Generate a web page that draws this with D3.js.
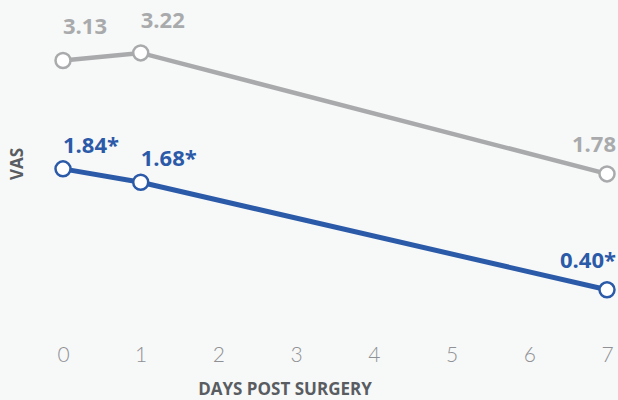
<!DOCTYPE html>
<html><head><meta charset="utf-8">
<script src="https://cdn.jsdelivr.net/npm/d3@7"></script>
<style>
html,body{margin:0;padding:0;background:#f7f8f8;}
svg{display:block;}
</style></head>
<body>
<svg id="chart" width="618" height="400"></svg>
<script>
const days = [0, 1, 2, 3, 4, 5, 6, 7];
const controlDays = [0, 1, 7];
const controlValues = [3.13, 3.22, 1.78];
const controlLabels = ["3.13", "3.22", "1.78"];
const treatedDays = [0, 1, 7];
const treatedValues = [1.84, 1.68, 0.40];
const treatedLabels = ["1.84*", "1.68*", "0.40*"];
const xTitle = "DAYS POST SURGERY";
const yTitle = "VAS";

const svg = d3.select("#chart");
const x = d3.scaleLinear().domain([0, 7]).range([63, 607]);
const y = d3.scaleLinear().domain([0, 3.5]).range([323.4, 29.4]);

const xAxis = d3.axisBottom(x).tickValues(days).tickSize(0).tickPadding(0).tickFormat(d3.format("d"));
const gx = svg.append("g").attr("transform", "translate(0,347)").call(xAxis);
gx.select(".domain").remove();
gx.selectAll("text")
  .attr("dy", "0.71em")
  .style("font-family", "Lato, Roboto, sans-serif")
  .style("font-weight", 300)
  .style("font-size", "21px")
  .style("fill", "#8f9194");

svg.append("text").attr("x", 285).attr("y", 395)
  .attr("text-anchor", "middle")
  .style("font-family", "'Open Sans', sans-serif").style("font-weight", 700)
  .style("font-size", "17px").style("fill", "#595d62").text(xTitle);

svg.append("text").attr("transform", "translate(23,164) rotate(-90)")
  .attr("text-anchor", "middle")
  .style("font-family", "'Open Sans', sans-serif").style("font-weight", 700)
  .style("font-size", "17px").style("fill", "#595d62").text(yTitle);

function drawSeries(ds, vs, labels, color, offsets, lw) {
  const pts = ds.map((d, i) => [d, vs[i]]);
  svg.append("path").datum(pts)
    .attr("d", d3.line().x(d => x(d[0])).y(d => y(d[1])))
    .attr("fill", "none").attr("stroke", color).attr("stroke-width", lw);
  svg.selectAll(null).data(pts).enter().append("circle")
    .attr("cx", d => x(d[0])).attr("cy", d => y(d[1])).attr("r", 7.5)
    .attr("fill", "#ffffff").attr("stroke", color).attr("stroke-width", 2.5);
  svg.selectAll(null).data(pts).enter().append("text")
    .attr("x", (d, i) => i === pts.length - 1 ? x(d[0]) + 9 : x(d[0]))
    .attr("y", (d, i) => y(d[1]) - offsets[i])
    .attr("text-anchor", (d, i) => i === pts.length - 1 ? "end" : "start")
    .style("font-family", "'Open Sans', sans-serif").style("font-weight", 700)
    .style("font-size", "22px").style("fill", color)
    .text((d, i) => labels[i]);
}

drawSeries(controlDays, controlValues, controlLabels, "#a9aaac", [26, 25, 22], 4.5);
drawSeries(treatedDays, treatedValues, treatedLabels, "#2b5aa8", [16, 16, 22], 5);
</script>
</body></html>
